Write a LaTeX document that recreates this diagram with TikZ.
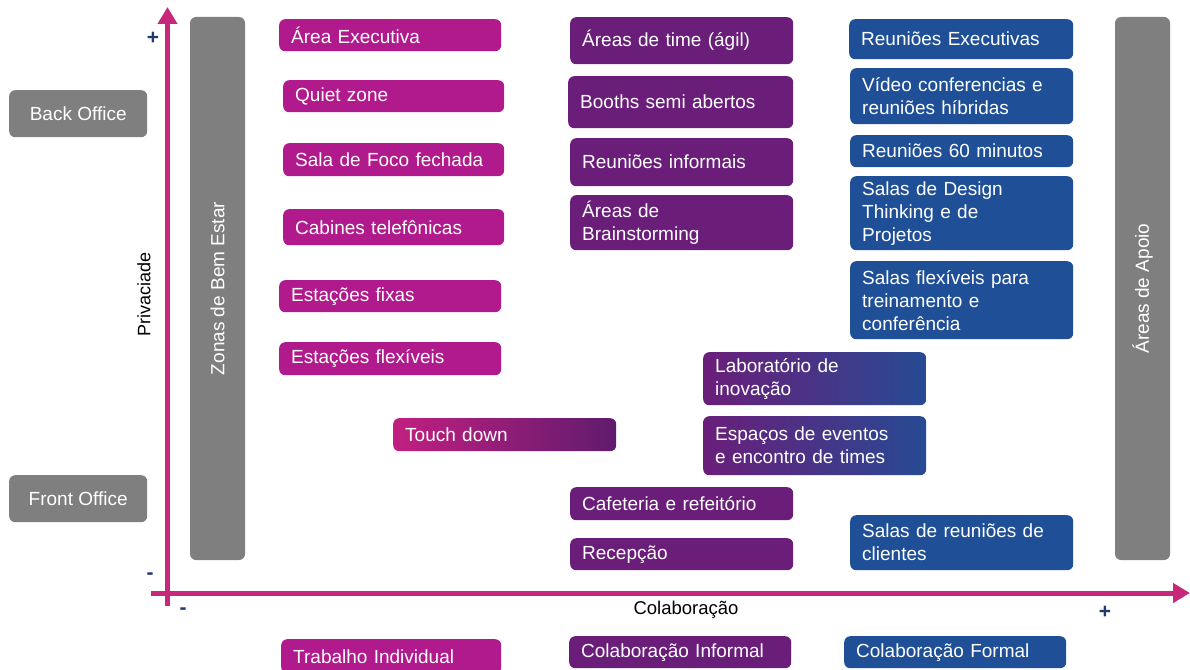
\documentclass[tikz,border=0pt]{standalone}
\usepackage{fontspec}
\setmainfont{Liberation Sans}
\usetikzlibrary{arrows.meta}
\definecolor{cmag}{HTML}{B01A8C}
\definecolor{cmagL}{HTML}{C21F80}
\definecolor{cpur}{HTML}{6A1E7A}
\definecolor{cblu}{HTML}{1F4F96}
\definecolor{cgry}{HTML}{7F7F7F}
\definecolor{caxis}{HTML}{C8287A}
\definecolor{csign}{HTML}{1F3A6E}
\begin{document}
\begin{tikzpicture}[x=1pt,y=-1pt,
  box/.style={rounded corners=6pt, text=white, anchor=north west, align=left,
    inner xsep=12pt, inner ysep=0pt, font=\fontsize{19}{23}\selectfont},
  mag/.style={box, fill=cmag},
  pur/.style={box, fill=cpur},
  blu/.style={box, fill=cblu},
  gmp/.style={box, left color=cmagL, right color=cpur!90!black},
  gpb/.style={box, left color=cpur, right color=cblu!90!cpur},
  wh/.style 2 args={text width=#1pt, minimum height=#2pt},
  gry/.style={rounded corners=6pt, fill=cgry, text=white, align=center,
    inner sep=0pt, font=\fontsize{19}{23}\selectfont},
  axis/.style={line width=5pt, draw=caxis, -{Triangle[width=19pt,length=17pt]}},
  sign/.style={text=csign, font=\fontsize{21}{21}\selectfont\bfseries, inner sep=0pt}
]
\useasboundingbox (0,0) rectangle (1190,669);

% gray side boxes
\node[gry, minimum width=138pt, minimum height=47pt, anchor=north west] (back) at (9,90) {Back Office};
\node[gry, minimum width=138pt, minimum height=47pt, anchor=north west] (front) at (9,475) {Front Office};
\node[gry, rotate=90, minimum width=543pt, minimum height=55pt] (bem) at (217.5,288.5) {Zonas de Bem Estar};
\node[gry, rotate=90, minimum width=543pt, minimum height=55pt] (apoio) at (1142.5,288.5) {Áreas de Apoio};

% axes
\coordinate (ybot) at (167.5,606);
\coordinate (ytop) at (167.5,7);
\coordinate (xl) at (151,593);
\coordinate (xr) at (1190,593);
\draw[axis] (ybot) -- (ytop);
\draw[axis] (xl) -- (xr);

\node[rotate=90, font=\fontsize{18}{18}\selectfont, inner sep=0pt] (priv) at (144,294) {Privaciade};
\node[font=\fontsize{18.5}{18}\selectfont, inner sep=0pt] (colab) at (686,610) {Colaboração};

\node[sign] (p1) at (153,38) {+};
\node[sign] (m1) at (150,576) {-};
\node[sign] (m2) at (183,611) {-};
\node[sign] (p2) at (1105,612) {+};

% magenta column
\node[mag, wh={198}{32}] (a1) at (279,19) {Área Executiva};
\node[mag, wh={197}{32}] (a2) at (283,80) {Quiet zone};
\node[mag, wh={197}{33}] (a3) at (283,143) {Sala de Foco fechada};
\node[mag, wh={197}{36}] (a4) at (283,209) {Cabines telefônicas};
\node[mag, wh={198}{32}] (a5) at (279,280) {Estações fixas};
\node[mag, wh={198}{33}] (a6) at (279,342) {Estações flexíveis};
\node[gmp, wh={199}{33}] (a7) at (393,418) {Touch down};

% purple column
\node[pur, wh={199}{47}] (b1) at (570,17) {Áreas de time (ágil)};
\node[pur, wh={201}{52}] (b2) at (568,76) {Booths semi abertos};
\node[pur, wh={199}{48}] (b3) at (570,138) {Reuniões informais};
\node[pur, wh={199}{55}] (b4) at (570,195) {Áreas de\\Brainstorming};
\node[pur, wh={199}{33}] (b5) at (570,487) {Cafeteria e refeitório};
\node[pur, wh={199}{32}] (b6) at (570,538) {Recepção};

% gradient purple-blue
\node[gpb, wh={199}{53}] (g1) at (703,352) {Laboratório de\\inovação};
\node[gpb, wh={199}{59}] (g2) at (703,416) {Espaços de eventos\\e encontro de times};

% blue column
\node[blu, wh={200}{40}] (c1) at (849,19) {Reuniões Executivas};
\node[blu, wh={199}{56}] (c2) at (850,68) {Vídeo conferencias e\\reuniões híbridas};
\node[blu, wh={199}{32}] (c3) at (850,135) {Reuniões 60 minutos};
\node[blu, wh={199}{74}] (c4) at (850,176) {Salas de Design\\Thinking e de\\Projetos};
\node[blu, wh={199}{78}] (c5) at (850,261) {Salas flexíveis para\\treinamento e\\conferência};
\node[blu, wh={199}{55}] (c6) at (850,515) {Salas de reuniões de\\clientes};

% legend row
\node[mag, wh={196}{34}] (l1) at (281,639) {Trabalho Individual};
\node[pur, wh={198}{32}] (l2) at (569,636) {Colaboração Informal};
\node[blu, wh={198}{32}] (l3) at (844,636) {Colaboração Formal};
\end{tikzpicture}
\end{document}
